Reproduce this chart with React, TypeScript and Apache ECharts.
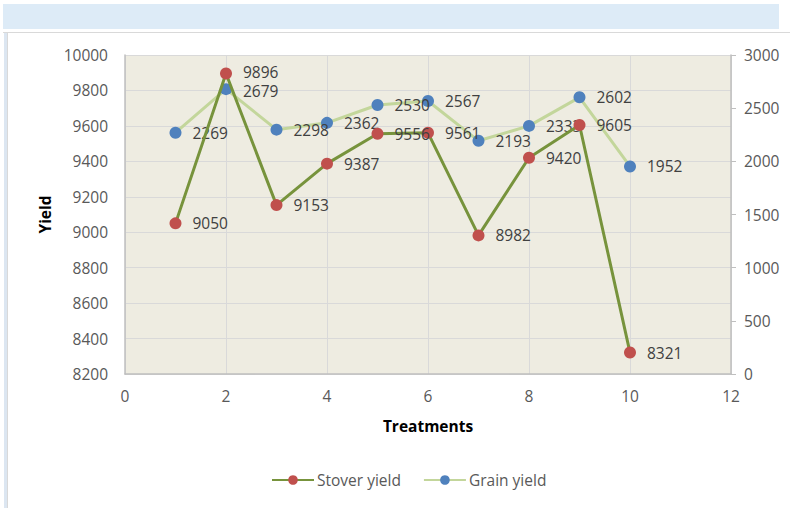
import React, { useEffect, useRef } from "react";
import * as echarts from "echarts";

const treatments = [1, 2, 3, 4, 5, 6, 7, 8, 9, 10];
const stoverYield = [9050, 9896, 9153, 9387, 9556, 9561, 8982, 9420, 9605, 8321];
const grainYield = [2269, 2679, 2298, 2362, 2530, 2567, 2193, 2333, 2602, 1952];

const FONT = "'Open Sans', 'Noto Sans', sans-serif";
const AXIS_TEXT = "#595959";
const LABEL_TEXT = "#404040";
const plain = (v: number) => String(v);

export default function App() {
  const ref = useRef<HTMLDivElement>(null);
  useEffect(() => {
    if (!ref.current) return;
    const chart = echarts.init(ref.current, undefined, { renderer: "svg" });
    const labelStyle = {
      show: true,
      position: "right" as const,
      distance: 11,
      color: LABEL_TEXT,
      fontSize: 15.5,
      lineHeight: 14,
      fontFamily: FONT,
    };
    chart.setOption({
      animation: false,
      backgroundColor: "#ffffff",
      textStyle: { fontFamily: FONT },
      graphic: [
        { type: "rect", shape: { x: 3, y: 4, width: 776, height: 25 }, style: { fill: "#DDEBF7" }, silent: true },
        { type: "line", shape: { x1: 3, y1: 32.5, x2: 790, y2: 32.5 }, style: { stroke: "#D9D9D9", lineWidth: 1 }, silent: true },
        { type: "rect", shape: { x: 4, y: 33, width: 3, height: 475 }, style: { fill: "#DCE6F1" }, silent: true },
        { type: "line", shape: { x1: 7.5, y1: 33, x2: 7.5, y2: 508 }, style: { stroke: "#D9D9D9", lineWidth: 1 }, silent: true },
      ],
      grid: {
        left: 125,
        right: 59,
        top: 55,
        bottom: 134,
        show: true,
        backgroundColor: "#EEECE1",
        borderWidth: 0,
      },
      legend: {
        left: 266,
        top: 467,
        itemWidth: 42,
        itemHeight: 12,
        itemGap: 22,
        textStyle: { color: AXIS_TEXT, fontSize: 15.5, fontFamily: FONT, padding: [0, 0, 0, -2] },
        data: ["Stover yield", "Grain yield"],
      },
      xAxis: {
        type: "value",
        min: 0,
        max: 12,
        interval: 2,
        name: "Treatments",
        nameLocation: "middle",
        nameGap: 44,
        nameTextStyle: { fontWeight: "bold", fontSize: 15.5, color: "#000000", fontFamily: FONT },
        axisLine: { show: true, lineStyle: { color: "#BFBFBF", width: 1.5 } },
        axisTick: { show: false },
        axisLabel: { color: AXIS_TEXT, fontSize: 15.5, margin: 14, fontFamily: FONT, formatter: plain },
        splitLine: { show: true, lineStyle: { color: "#D9D9D9", width: 1 } },
      },
      yAxis: [
        {
          type: "value",
          min: 8200,
          max: 10000,
          interval: 200,
          name: "Yield",
          nameLocation: "middle",
          nameGap: 69,
          nameTextStyle: { fontWeight: "bold", fontSize: 15.5, color: "#000000", fontFamily: FONT },
          axisLine: { show: true, lineStyle: { color: "#BFBFBF", width: 1.5 } },
          axisTick: { show: false },
          axisLabel: { color: AXIS_TEXT, fontSize: 15.5, margin: 17, fontFamily: FONT, formatter: plain },
          splitLine: { show: true, lineStyle: { color: "#D9D9D9", width: 1 } },
        },
        {
          type: "value",
          min: 0,
          max: 3000,
          interval: 500,
          position: "right",
          axisLine: { show: true, lineStyle: { color: "#BFBFBF", width: 1.5 } },
          axisTick: { show: true, inside: false, length: 5, lineStyle: { color: "#BFBFBF" } },
          axisLabel: { color: AXIS_TEXT, fontSize: 15.5, margin: 13, fontFamily: FONT, formatter: plain },
          splitLine: { show: false },
        },
      ],
      series: [
        {
          name: "Grain yield",
          type: "line",
          yAxisIndex: 1,
          data: treatments.map((t, i) =>
            i === 1
              ? { value: [t, grainYield[i]], label: { offset: [0, 2] } }
              : [t, grainYield[i]]
          ),
          symbol: "circle",
          symbolSize: 12,
          lineStyle: { color: "#C3D69B", width: 3 },
          itemStyle: { color: "#4F81BD" },
          label: labelStyle,
          z: 2,
        },
        {
          name: "Stover yield",
          type: "line",
          yAxisIndex: 0,
          data: treatments.map((t, i) =>
            i === 1
              ? { value: [t, stoverYield[i]], label: { offset: [0, -1] } }
              : [t, stoverYield[i]]
          ),
          symbol: "circle",
          symbolSize: 12,
          lineStyle: { color: "#77933C", width: 3 },
          itemStyle: { color: "#C0504D" },
          label: labelStyle,
          z: 3,
        },
      ],
    });
    return () => chart.dispose();
  }, []);
  return (
    <div
      ref={ref}
      style={{ position: "fixed", left: 0, top: 0, width: 790, height: 508 }}
    />
  );
}
